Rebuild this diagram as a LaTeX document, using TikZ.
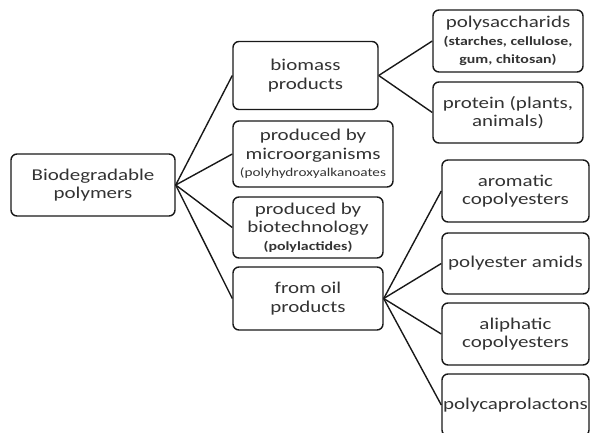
\documentclass[tikz,border=0pt]{standalone}
\usepackage{fontspec}
\setmainfont[FakeStretch=1.27]{Carlito}
\newcommand{\sbold}{\fontsize{12.5}{15.5}\selectfont\bfseries}
\newcommand{\sreg}{\fontsize{12}{14}\selectfont}
\begin{document}
\begin{tikzpicture}[x=1pt,y=-1pt,
  box/.style={draw=black!90, line width=1.4pt, rounded corners=6pt, align=center,
    inner sep=1pt, text=black!80, font=\fontsize{16.5}{18.3}\selectfont},
  link/.style={draw=black!90, line width=1.4pt},
]
\useasboundingbox (0,0) rectangle (590,432);
\fill[white] (0,0) rectangle (590,432);
\node[box, minimum width=164pt, minimum height=62pt] (root) at (93,185) {Biodegradable\\polymers};
\node[box, minimum width=145pt, minimum height=68pt] (bio) at (305.5,75.5) {biomass\\products};
\node[box, minimum width=160pt, minimum height=66pt] (micro) at (313,154) {produced by\\microorganisms\\[-1pt]\sreg (polyhydroxyalkanoates};
\node[box, minimum width=150pt, minimum height=61pt] (tech) at (308,227.5) {produced by\\biotechnology\\[-1pt]\sbold (polylactides)};
\node[box, minimum width=150pt, minimum height=63pt] (oil) at (308,298.5) {from oil\\products};
\node[box, minimum width=150pt, minimum height=62pt] (poly) at (508,41) {polysaccharids\\[-1pt]\sbold (starches, cellulose,\\\sbold gum, chitosan)};
\node[box, minimum width=150pt, minimum height=61pt] (prot) at (508,112.5) {protein (plants,\\animals)};
\node[box, minimum width=147pt, minimum height=62pt] (arom) at (515.5,191) {aromatic\\copolyesters};
\node[box, minimum width=147pt, minimum height=61pt] (amid) at (515.5,263.5) {polyester amids};
\node[box, minimum width=147pt, minimum height=62pt] (aliph) at (515.5,334) {aliphatic\\copolyesters};
\node[box, minimum width=147pt, minimum height=62pt] (pcl) at (515.5,405) {polycaprolactons};
\foreach \t in {bio,micro,tech,oil} \draw[link] (root.east) -- (\t.west);
\foreach \t in {poly,prot} \draw[link] (bio.east) -- (\t.west);
\foreach \t in {arom,amid,aliph,pcl} \draw[link] (oil.east) -- (\t.west);
\end{tikzpicture}
\end{document}
